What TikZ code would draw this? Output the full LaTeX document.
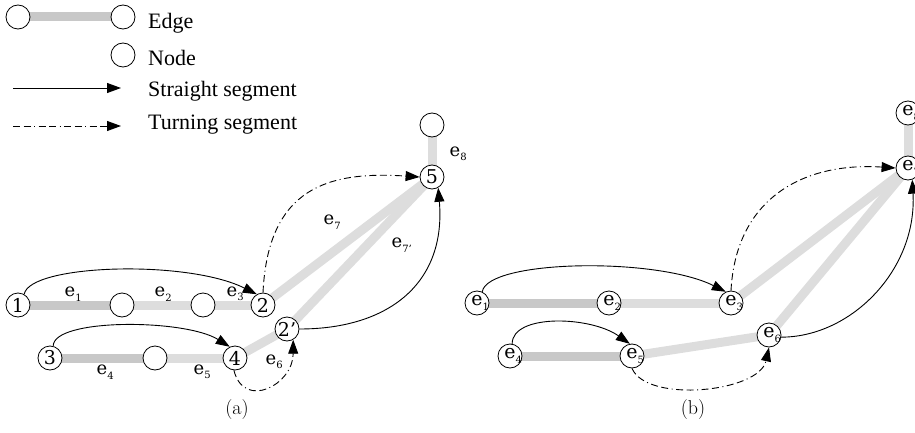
\documentclass[tikz,border=0pt]{standalone}
\usepackage{fontspec}
\newfontfamily\legendfont{Liberation Serif}
\newfontfamily\labfont{DejaVu Serif}
\usetikzlibrary{arrows.meta}
\pgfdeclarelayer{bg}
\pgfsetlayers{bg,main}
\definecolor{edgedark}{RGB}{200,200,200}
\definecolor{edgelight}{RGB}{221,221,221}

% "e" with a hanging subscript that does not widen the box
\newcommand{\edgesub}[1]{e\rlap{\raisebox{-4.5pt}{\fontsize{10}{10}\selectfont #1}}}

\tikzset{
  vert/.style={circle, draw, line width=0.8pt, fill=white, minimum size=24pt,
    inner sep=0pt, font=\labfont\fontsize{19}{19}\selectfont},
  bar/.style={line width=9pt, draw=edgelight},
  bardark/.style={line width=9pt, draw=edgedark},
  seg/.style={line width=0.9pt, -{Triangle[length=14pt,width=10pt]}},
  turn/.style={seg, dash pattern=on 7pt off 3.5pt on 7pt off 3.5pt on 1pt off 3.5pt},
  elab/.style={font=\labfont\fontsize{18}{18}\selectfont, inner sep=0pt},
  legtext/.style={anchor=base west, font=\legendfont\fontsize{22}{26}\selectfont, inner sep=0pt},
  captext/.style={font=\fontsize{20}{24}\selectfont}
}

\begin{document}
\begin{tikzpicture}[x=1pt,y=1pt]
\useasboundingbox (0,0) rectangle (915,432);
\clip (0,0) rectangle (915,432);

% ---------- legend ----------
\node[vert] (lg1) at (18,415) {};
\node[vert] (lg2) at (123,415) {};
\node[legtext] (tedge) at (148,403) {Edge};
\node[vert] (lg3) at (123,377) {};
\node[legtext] (tnode) at (148,366) {Node};
\coordinate (s0) at (13,344);
\coordinate (s1) at (121,344);
\draw[seg] (s0) -- (s1);
\node[legtext] (tstraight) at (148,335) {Straight segment};
\coordinate (t0) at (13,306);
\coordinate (t1) at (121,306);
\draw[turn] (t0) -- (t1);
\node[legtext] (tturn) at (148,302) {Turning segment};

% ---------- road graph ----------
\node[vert] (a1) at (18,127) {1};
\node[vert] (ap1) at (122,127) {};
\node[vert] (ap2) at (203,127) {};
\node[vert] (a2) at (263,127) {2};
\node[vert] (a3) at (50,74) {3};
\node[vert] (ap3) at (155,74) {};
\node[vert] (a4) at (235,74) {4};
\node[vert] (a2p) at (287,103) {2’};
\node[vert] (a5) at (432,255) {5};
\node[vert] (ap5) at (432,307) {};

\node[elab] (le1) at (70,138) {\edgesub{1}};
\node[elab] (le2) at (160,138) {\edgesub{2}};
\node[elab] (le3) at (232,138) {\edgesub{3}};
\node[elab] (le4) at (102,60) {\edgesub{4}};
\node[elab] (le5) at (199,60) {\edgesub{5}};
\node[elab] (le6) at (271,70) {\edgesub{6}};
\node[elab] (le7) at (329,210) {\edgesub{7}};
\node[elab] (le7p) at (397,187) {\edgesub{7’}};
\node[elab] (le8) at (455,278) {\edgesub{8}};

% ---------- edge graph ----------
\node[vert] (b1) at (477,129) {\edgesub{1}};
\node[vert] (b2) at (609,129) {\edgesub{2}};
\node[vert] (b3) at (731,129) {\edgesub{3}};
\node[vert] (b4) at (510,76) {\edgesub{4}};
\node[vert] (b5) at (632,76) {\edgesub{5}};
\node[vert] (b6) at (769,97) {\edgesub{6}};
\node[vert] (b7) at (908,264) {\edgesub{7}};
\node[vert] (b8) at (908,319) {\edgesub{8}};

\begin{pgfonlayer}{bg}
  \draw[bardark] (lg1.center) -- (lg2.center);
  \draw[bardark] (a1.center) -- (ap1.center);
  \draw[bar] (ap1.center) -- (ap2.center);
  \draw[bar] (ap2.center) -- (a2.center);
  \draw[bardark] (a3.center) -- (ap3.center);
  \draw[bar] (ap3.center) -- (a4.center);
  \draw[bar] (a4.center) -- (a2p.center);
  \draw[bar] (a2.center) -- (a5.center);
  \draw[bar] (a2p.center) -- (a5.center);
  \draw[bar] (a5.center) -- (ap5.center);
  \draw[bardark] (b1.center) -- (b2.center);
  \draw[bar] (b2.center) -- (b3.center);
  \draw[bardark] (b4.center) -- (b5.center);
  \draw[bar] (b5.center) -- (b6.center);
  \draw[bar] (b3.center) -- (b7.center);
  \draw[bar] (b6.center) -- (b7.center);
  \draw[bar] (b7.center) -- (b8.center);
\end{pgfonlayer}

% segments on the road graph
\draw[seg] (a1.60) .. controls +(5,30) and +(-70,35) .. (a2.120);
\draw[seg] (a3.75) .. controls +(0,28) and +(-45,28) .. (a4.115);
\draw[turn] (a2.north) .. controls +(5,106) and +(-90,6) .. (a5.west);
\draw[turn] (a4.-95) .. controls +(10,-40) and +(0,-45) .. (a2p.-60);
\draw[seg] (a2p.east) .. controls +(90,0) and +(8,-95) .. (a5.-60);

% segments on the edge graph
\draw[seg] (b1.65) .. controls +(5,32) and +(-70,35) .. (b3.115);
\draw[seg] (b4.80) .. controls +(0,30) and +(-40,28) .. (b5.100);
\draw[turn] (b3.north) .. controls +(5,94) and +(-90,6) .. (b7.west);
\draw[turn] (b5.-90) .. controls +(15,-35) and +(-10,-45) .. (b6.-90);
\draw[seg] (b6.-10) .. controls +(70,0) and +(5,-90) .. (b7.-70);

\node[captext] (capa) at (237,22) {(a)};
\node[captext] (capb) at (693,22) {(b)};
\end{tikzpicture}
\end{document}
